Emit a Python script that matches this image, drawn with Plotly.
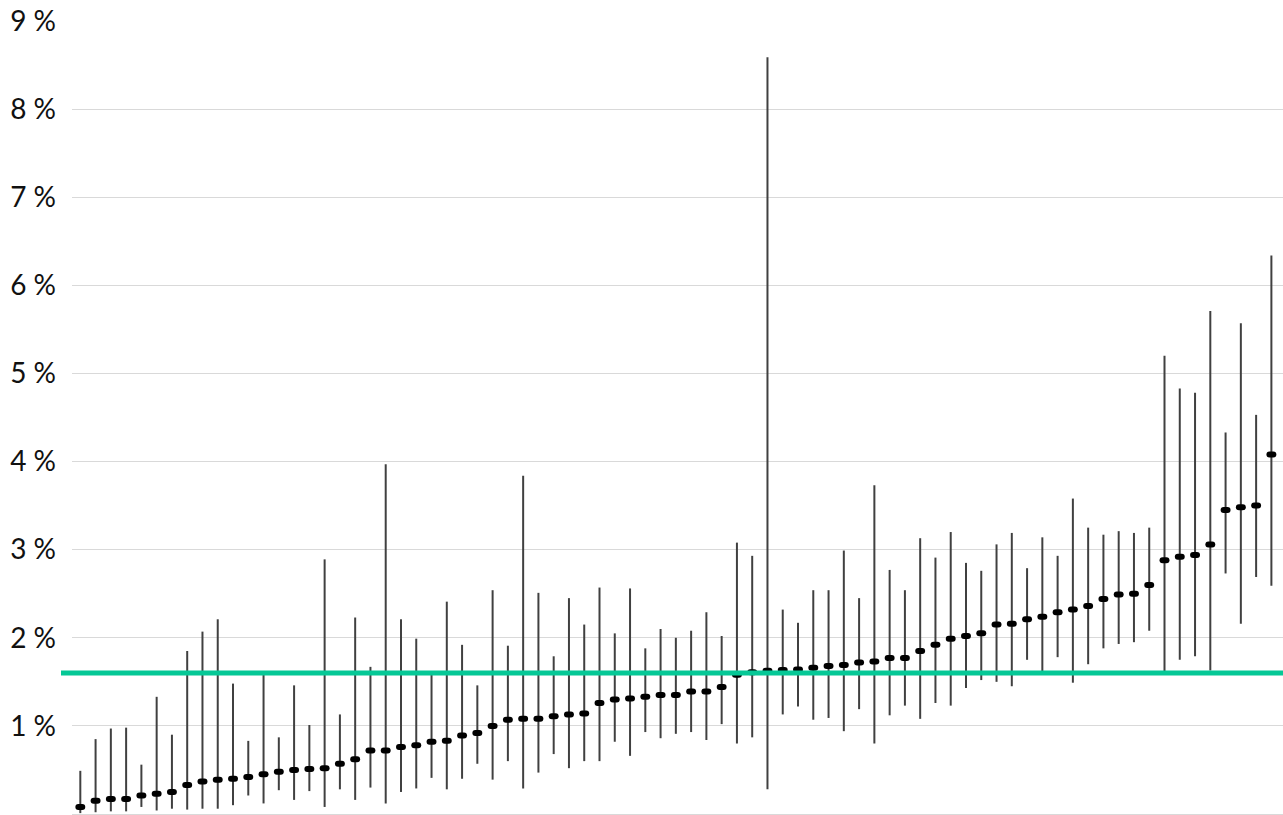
import plotly.graph_objects as go

# Point estimates (%) for each unit, sorted ascending
values = [
    0.08, 0.15, 0.17, 0.17, 0.21, 0.23, 0.25, 0.33, 0.37, 0.39,
    0.40, 0.42, 0.45, 0.48, 0.50, 0.51, 0.52, 0.57, 0.62, 0.72,
    0.72, 0.76, 0.78, 0.82, 0.83, 0.89, 0.92, 1.00, 1.07, 1.08,
    1.08, 1.11, 1.13, 1.14, 1.26, 1.30, 1.31, 1.33, 1.35, 1.35,
    1.39, 1.39, 1.44, 1.58, 1.61, 1.625, 1.635, 1.64, 1.66, 1.68,
    1.69, 1.72, 1.73, 1.77, 1.77, 1.85, 1.92, 1.99, 2.02, 2.05,
    2.15, 2.16, 2.21, 2.24, 2.29, 2.32, 2.36, 2.44, 2.49, 2.50,
    2.60, 2.88, 2.92, 2.94, 3.06, 3.45, 3.48, 3.50, 4.08, 6.23,
]
# Upper bound of interval (%)
upper = [
    0.49, 0.85, 0.97, 0.98, 0.56, 1.33, 0.90, 1.85, 2.07, 2.21,
    1.48, 0.83, 1.58, 0.87, 1.46, 1.01, 2.89, 1.13, 2.23, 1.67,
    3.97, 2.21, 1.99, 1.60, 2.41, 1.92, 1.46, 2.54, 1.91, 3.84,
    2.51, 1.79, 2.45, 2.15, 2.57, 2.05, 2.56, 1.88, 2.10, 2.00,
    2.08, 2.29, 2.02, 3.08, 2.93, 8.59, 2.32, 2.17, 2.54, 2.54,
    2.99, 2.45, 3.73, 2.77, 2.54, 3.13, 2.91, 3.20, 2.85, 2.76,
    3.06, 3.19, 2.79, 3.14, 2.93, 3.58, 3.25, 3.17, 3.21, 3.19,
    3.25, 5.20, 4.83, 4.78, 5.71, 4.33, 5.57, 4.53, 6.34, 7.90,
]
# Lower bound of interval (%)
lower = [
    0.01, 0.02, 0.03, 0.03, 0.08, 0.04, 0.06, 0.05, 0.06, 0.06,
    0.10, 0.21, 0.12, 0.27, 0.16, 0.26, 0.08, 0.28, 0.16, 0.30,
    0.12, 0.25, 0.29, 0.41, 0.28, 0.40, 0.57, 0.39, 0.60, 0.29,
    0.47, 0.68, 0.52, 0.60, 0.60, 0.82, 0.66, 0.93, 0.86, 0.91,
    0.93, 0.84, 1.02, 0.80, 0.87, 0.28, 1.13, 1.22, 1.07, 1.09,
    0.94, 1.19, 0.80, 1.12, 1.23, 1.08, 1.26, 1.23, 1.43, 1.52,
    1.50, 1.45, 1.75, 1.62, 1.78, 1.49, 1.70, 1.88, 1.93, 1.95,
    2.08, 1.58, 1.75, 1.79, 1.63, 2.73, 2.16, 2.69, 2.59, 4.60,
]
benchmark = 1.60  # reference line (%)
tick_values = [1, 2, 3, 4, 5, 6, 7, 8, 9]
tick_labels = [f"{v} %" for v in tick_values]

positions = list(range(len(values)))
err_plus = [u - v for u, v in zip(upper, values)]
err_minus = [v - l for v, l in zip(values, lower)]

fig = go.Figure()
fig.add_trace(go.Scatter(
    x=positions, y=values, mode="markers",
    marker=dict(symbol="line-ew", size=2.8, color="black",
                line=dict(width=6, color="black")),
    error_y=dict(type="data", symmetric=False, array=err_plus,
                 arrayminus=err_minus, width=0, thickness=2, color="#404040"),
    cliponaxis=False, hoverinfo="skip", showlegend=False,
))

fig.add_shape(type="line", xref="paper", yref="y",
              x0=-11 / 1211, x1=1, y0=benchmark, y1=benchmark,
              line=dict(color="#05C896", width=5), layer="above")

fig.update_layout(
    width=1283, height=815,
    margin=dict(l=72, r=0, t=21, b=1, autoexpand=False),
    paper_bgcolor="white", plot_bgcolor="white",
    xaxis=dict(range=[-0.544, 78.76], visible=False, automargin=False),
    yaxis=dict(range=[0, 9], tickvals=tick_values, ticktext=tick_labels,
               automargin=False,
               showgrid=True, gridcolor="#d9d9d9", gridwidth=1.3,
               zeroline=True, zerolinecolor="#d9d9d9", zerolinewidth=1.3,
               ticks="", ticklabelstandoff=15, showline=False,
               tickfont=dict(family="Lato", size=28, color="#111111")),
)

# page without body margin; round the ends of the dash markers
post = ("document.body.style.margin='0';"
        "document.body.style.overflow='hidden';"
        "var s=document.createElement('style');"
        "s.textContent='.scatterlayer .point{stroke-linecap:round;}';"
        "document.head.appendChild(s);")
fig.write_html("out.html", post_script=post,
               config={"displayModeBar": False})
